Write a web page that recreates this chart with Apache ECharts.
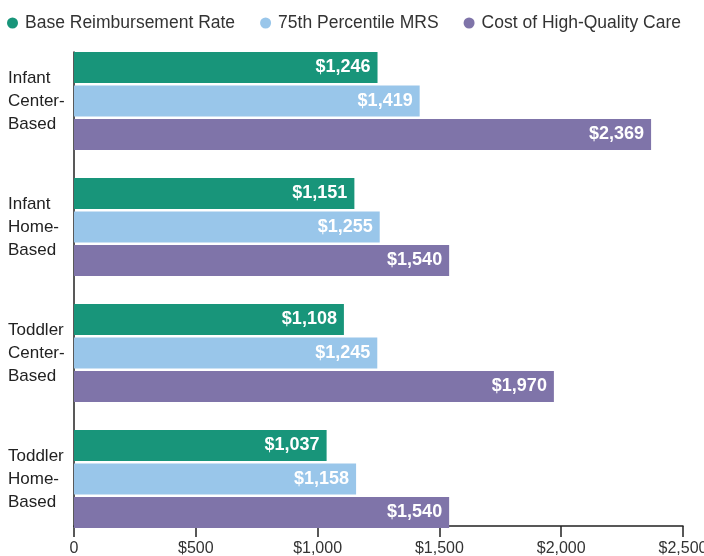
<!DOCTYPE html>
<html>
<head>
<meta charset="utf-8">
<script src="https://cdn.jsdelivr.net/npm/echarts@6/dist/echarts.min.js"></script>
<style>
  html, body { margin: 0; padding: 0; background: #fff; }
  #chart { width: 704px; height: 556px; }
</style>
</head>
<body>
<div id="chart"></div>
<script>
const categories = ['Infant\nCenter-\nBased', 'Infant\nHome-\nBased', 'Toddler\nCenter-\nBased', 'Toddler\nHome-\nBased']
const seriesNames = ['Base Reimbursement Rate', '75th Percentile MRS', 'Cost of High-Quality Care']
const baseRate = [1246, 1151, 1108, 1037]
const percentile75 = [1419, 1255, 1245, 1158]
const highQuality = [2369, 1540, 1970, 1540]
const xTicks = { min: 0, max: 2500, interval: 500 }

const colors = ['#18957A', '#99C6EA', '#7F74A9']
const font = 'Liberation Sans'

const chart = echarts.init(document.getElementById('chart'))

const money = v => v === 0 ? '0' : '$' + v.toLocaleString('en-US')

function barSeries(name, data, color) {
  return {
    name,
    type: 'bar',
    xAxisIndex: 0,
    yAxisIndex: 0,
    data,
    barWidth: 31,
    barGap: '8%',
    itemStyle: { color },
    label: {
      show: true,
      position: 'insideRight',
      distance: 7,
      color: '#fff',
      fontFamily: font,
      fontWeight: 'bold',
      fontSize: 18,
      formatter: p => money(p.value)
    }
  }
}

chart.setOption({
  animation: false,
  textStyle: { fontFamily: font },
  legend: {
    top: 9,
    left: 2,
    icon: 'circle',
    itemWidth: 11,
    itemHeight: 11,
    itemGap: 25,
    textStyle: { fontSize: 17.5, color: '#333', fontFamily: font, padding: [0, 0, 0, 2] },
    data: seriesNames
  },
  // keep the plot boxes where they are, labels may sit near the edges
  grid: [
    { left: 74, right: 21, top: 38, height: 504, outerBoundsMode: 'none' },
    { left: 74, right: 21, top: 52, height: 474, outerBoundsMode: 'none' }
  ],
  xAxis: [
    { gridIndex: 0, type: 'value', ...xTicks, show: false },
    {
      gridIndex: 1,
      type: 'value',
      ...xTicks,
      axisLine: { show: true, lineStyle: { color: '#222', width: 1.5 } },
      axisTick: { show: true, length: 11, lineStyle: { color: '#222', width: 1.5 } },
      axisLabel: { color: '#333', fontSize: 16, margin: 15, formatter: money },
      splitLine: { show: false }
    }
  ],
  yAxis: [
    {
      gridIndex: 0,
      type: 'category',
      inverse: true,
      data: categories,
      axisLine: { show: false },
      axisTick: { show: false },
      axisLabel: { align: 'left', margin: 66, color: '#222', fontSize: 17, lineHeight: 23 }
    },
    {
      gridIndex: 1,
      type: 'value',
      min: 0,
      max: 1,
      axisLine: { show: true, lineStyle: { color: '#222', width: 1.5 } },
      axisTick: { show: false },
      axisLabel: { show: false },
      splitLine: { show: false }
    }
  ],
  series: [
    barSeries(seriesNames[0], baseRate, colors[0]),
    barSeries(seriesNames[1], percentile75, colors[1]),
    barSeries(seriesNames[2], highQuality, colors[2])
  ]
})
</script>
</body>
</html>
